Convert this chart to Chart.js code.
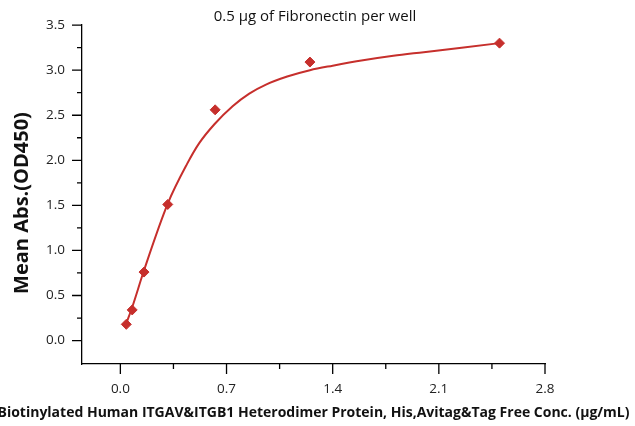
<!DOCTYPE html>
<html>
<head>
<meta charset="utf-8">
<script src="https://cdn.jsdelivr.net/npm/chart.js@4.4.0/dist/chart.umd.min.js"></script>
<style>
  html, body { margin: 0; padding: 0; background: #fff; }
</style>
</head>
<body>
<canvas id="absChart" width="635" height="426"></canvas>
<script>
// --- Data ---
const concentrations = [0.039, 0.078, 0.156, 0.3125, 0.625, 1.25, 2.5];
const meanAbs = [0.18, 0.34, 0.76, 1.51, 2.56, 3.09, 3.30];

// fitted curve
const fitConc = [0.039, 0.078, 0.156, 0.3125, 0.44, 0.52, 0.62, 0.74, 0.85, 0.96, 1.1, 1.25, 1.4, 1.6, 1.8, 2.0, 2.25, 2.5];
const fitAbs = [0.19, 0.37, 0.78, 1.52, 1.96, 2.19, 2.40, 2.60, 2.74, 2.84, 2.93, 3.00, 3.05, 3.11, 3.16, 3.20, 3.25, 3.30];

const xTicks = [0, 0.7, 1.4, 2.1, 2.8];
const xMinorTicks = [0.35, 1.05, 1.75, 2.45];
const yTicks = [0, 0.5, 1.0, 1.5, 2.0, 2.5, 3.0, 3.5];
const yMinorTicks = [0.25, 0.75, 1.25, 1.75, 2.25, 2.75, 3.25];

const subtitle = '0.5 \u00b5g of Fibronectin per well';
const xTitle = 'Biotinylated Human ITGAV&ITGB1 Heterodimer Protein, His,Avitag&Tag Free Conc. (\u00b5g/mL)';
const yTitle = 'Mean Abs.(OD450)';

const red = '#c62f2c';

// --- Ticks and titles drawn over the axes ---
const axisDecor = {
    id: 'axisDecor',
    afterDraw(chart) {
        const { ctx, chartArea: a, scales: { x, y } } = chart;
        ctx.save();
        ctx.strokeStyle = '#000';
        ctx.lineWidth = 1.3;
        ctx.beginPath();
        xTicks.forEach(v => {
            const p = x.getPixelForValue(v);
            ctx.moveTo(p, a.bottom); ctx.lineTo(p, a.bottom + 10);
        });
        xMinorTicks.forEach(v => {
            const p = x.getPixelForValue(v);
            ctx.moveTo(p, a.bottom); ctx.lineTo(p, a.bottom + 5);
        });
        yTicks.forEach(v => {
            const p = y.getPixelForValue(v);
            ctx.moveTo(a.left, p); ctx.lineTo(a.left - 10, p);
        });
        yMinorTicks.forEach(v => {
            const p = y.getPixelForValue(v);
            ctx.moveTo(a.left, p); ctx.lineTo(a.left - 5, p);
        });
        ctx.stroke();

        ctx.fillStyle = '#111';
        ctx.textAlign = 'center';
        ctx.textBaseline = 'middle';
        ctx.font = '15px "Open Sans"';
        ctx.fillText(subtitle, 315, 17);
        ctx.font = 'bold 14px "Open Sans"';
        ctx.fillText(xTitle, (a.left + a.right) / 2, 413);
        ctx.translate(22, 203);
        ctx.rotate(-Math.PI / 2);
        ctx.font = 'bold 20px "Open Sans"';
        ctx.fillText(yTitle, 0, 0);
        ctx.restore();
    }
};

const ctx = document.getElementById('absChart').getContext('2d');
const absChart = new Chart(ctx, {
    type: 'scatter',
    data: {
        datasets: [{
            label: 'Fit',
            data: fitConc.map((c, i) => ({ x: c, y: fitAbs[i] })),
            showLine: true,
            borderColor: red,
            borderWidth: 2,
            pointRadius: 0,
            cubicInterpolationMode: 'monotone',
            order: 2
        }, {
            label: 'Mean Abs.',
            data: concentrations.map((c, i) => ({ x: c, y: meanAbs[i] })),
            showLine: false,
            pointStyle: 'rectRot',
            pointRadius: 5,
            backgroundColor: red,
            borderColor: red,
            borderWidth: 1,
            order: 1
        }]
    },
    options: {
        responsive: false,
        devicePixelRatio: 1,
        animation: false,
        layout: { padding: { top: 24, right: 90, left: 0, bottom: 0 } },
        plugins: { legend: { display: false }, tooltip: { enabled: false } },
        scales: {
            x: {
                type: 'linear',
                min: -0.253,
                max: 2.8,
                afterBuildTicks: s => { s.ticks = xTicks.map(v => ({ value: v })); },
                afterFit: s => { s.height = 62; },
                grid: { display: false, drawTicks: false },
                border: { display: true, color: '#000', width: 1.3 },
                ticks: {
                    padding: 17,
                    color: '#222',
                    font: { family: 'Open Sans', size: 13.5 },
                    maxRotation: 0,
                    callback: v => v.toFixed(1)
                }
            },
            y: {
                type: 'linear',
                min: -0.26,
                max: 3.5,
                afterBuildTicks: s => { s.ticks = yTicks.map(v => ({ value: v })); },
                afterFit: s => { s.width = 82; },
                grid: { display: false, drawTicks: false },
                border: { display: true, color: '#000', width: 1.3 },
                ticks: {
                    padding: 17,
                    color: '#222',
                    font: { family: 'Open Sans', size: 13.5 },
                    callback: v => v.toFixed(1)
                }
            }
        }
    },
    plugins: [axisDecor]
});
</script>
</body>
</html>
